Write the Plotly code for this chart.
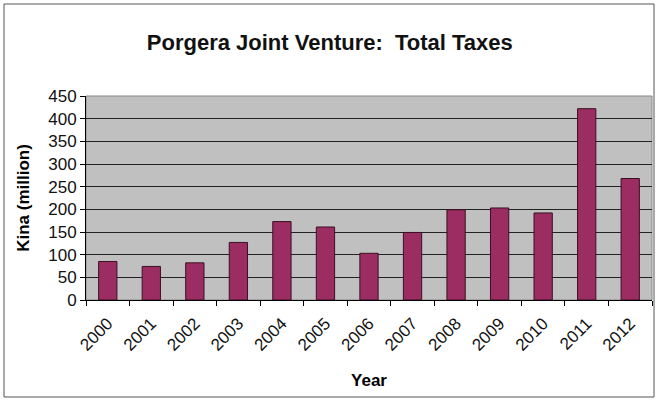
import plotly.graph_objects as go

years = ["2000", "2001", "2002", "2003", "2004", "2005", "2006",
         "2007", "2008", "2009", "2010", "2011", "2012"]
taxes = [85, 74, 82, 127, 173, 161, 103, 149, 199, 203, 192, 422, 268]
y_ticks = [0, 50, 100, 150, 200, 250, 300, 350, 400, 450]

fig = go.Figure()
fig.add_trace(go.Bar(
    x=years, y=taxes,
    marker=dict(color="#9B2D62", line=dict(color="#3a1020", width=1)),
    width=0.42,
))

fig.update_layout(
    width=657, height=401,
    margin=dict(l=86, r=5, t=96, b=101, autoexpand=False),
    paper_bgcolor="white",
    plot_bgcolor="#C0C0C0",
    showlegend=False,
    title=dict(text="<b>Porgera Joint Venture:  Total Taxes</b>",
               x=0.502, xanchor="center", y=1 - 42 / 401, yanchor="middle",
               yref="container", automargin=False,
               font=dict(family="Arial, Liberation Sans", size=22, color="#111111")),
    font=dict(family="Arial, Liberation Sans", color="black"),
)
fig.update_xaxes(
    type="category", tickson="boundaries", ticks="outside", ticklen=5,
    tickcolor="black", showline=True, linecolor="black", linewidth=1,
    tickangle=-45, tickfont=dict(size=17, color="#111111"), showgrid=False,
    automargin=False, ticklabelstandoff=6,
    title=dict(text="<b>Year</b>", font=dict(size=17), standoff=20),
)
fig.update_yaxes(
    range=[0, 450], tickvals=y_ticks, ticks="outside", ticklen=5,
    tickcolor="black", showline=True, linecolor="black", linewidth=1,
    showgrid=True, gridcolor="#222222", gridwidth=1, zeroline=False,
    tickfont=dict(size=17, color="#111111"), automargin=False,
    title=dict(text="<b>Kina (million)</b>", font=dict(size=17), standoff=14),
)
# plot area border (top/right gray)
fig.add_shape(type="rect", xref="paper", yref="paper", x0=0, x1=1, y0=0, y1=1,
              line=dict(color="#888888", width=1), layer="below")
# outer chart frame
fig.add_shape(type="rect", xref="paper", yref="paper",
              x0=(4 - 86) / 566, x1=1 + 2 / 566, y0=-97 / 204, y1=1 + 92 / 204,
              line=dict(color="#555555", width=1))

fig.write_html("out.html", config={"displayModeBar": False},
               post_script="document.body.style.margin='0';document.body.style.overflow='hidden';")
